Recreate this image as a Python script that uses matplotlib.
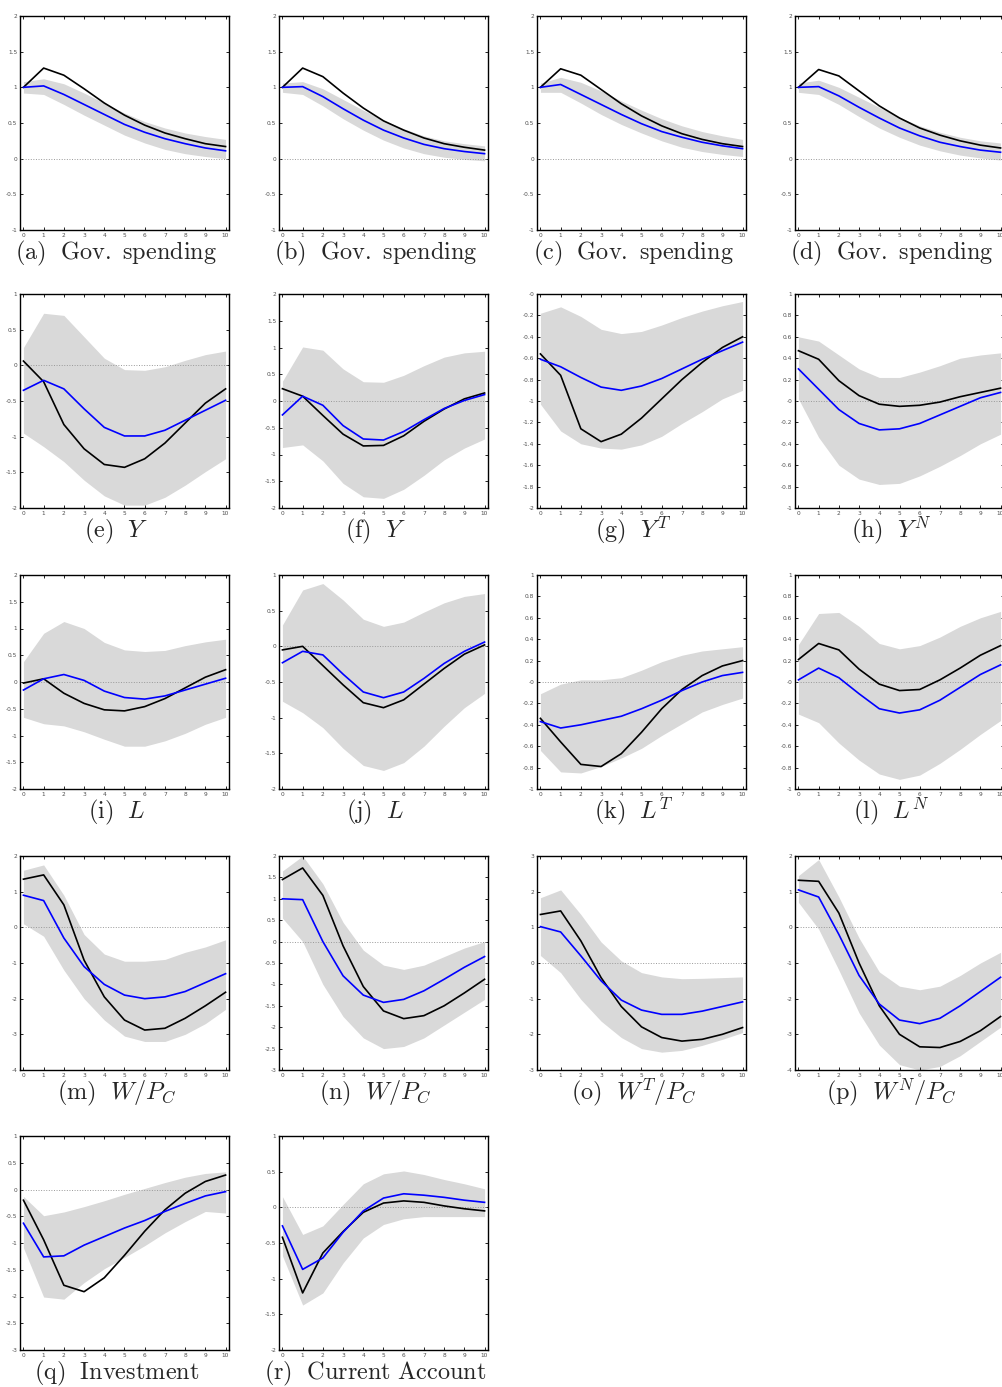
import numpy as np
import matplotlib
matplotlib.use("Agg")
import matplotlib.pyplot as plt
from matplotlib.ticker import FormatStrFormatter

plt.rcParams['mathtext.fontset'] = 'cm'
plt.rcParams['axes.unicode_minus'] = False

h = np.arange(11)

# black = point estimate, blue = model, lo/hi = grey band
a_blk = [1.0, 1.27, 1.17, 0.98, 0.78, 0.61, 0.47, 0.36, 0.28, 0.21, 0.17]
a_blu = [1.0, 1.02, 0.90, 0.76, 0.62, 0.48, 0.37, 0.28, 0.21, 0.15, 0.11]
a_hi = [1.08, 1.12, 1.05, 0.92, 0.78, 0.64, 0.52, 0.43, 0.36, 0.31, 0.27]
a_lo = [0.92, 0.90, 0.76, 0.61, 0.47, 0.33, 0.22, 0.13, 0.07, 0.03, 0.00]

b_blk = [1.0, 1.27, 1.15, 0.92, 0.71, 0.53, 0.40, 0.29, 0.21, 0.16, 0.12]
b_blu = [1.0, 1.01, 0.87, 0.70, 0.54, 0.40, 0.29, 0.20, 0.14, 0.10, 0.07]
b_hi = [1.06, 1.08, 0.98, 0.83, 0.68, 0.54, 0.42, 0.32, 0.25, 0.21, 0.18]
b_lo = [0.93, 0.90, 0.74, 0.56, 0.40, 0.26, 0.15, 0.07, 0.02, -0.01, -0.03]

c_blk = [1.0, 1.26, 1.17, 0.97, 0.77, 0.60, 0.46, 0.35, 0.27, 0.21, 0.17]
c_blu = [1.0, 1.04, 0.90, 0.76, 0.62, 0.49, 0.38, 0.30, 0.23, 0.18, 0.14]
c_hi = [1.06, 1.14, 1.07, 0.95, 0.81, 0.68, 0.56, 0.46, 0.38, 0.32, 0.27]
c_lo = [0.93, 0.93, 0.78, 0.62, 0.48, 0.36, 0.25, 0.16, 0.10, 0.06, 0.03]

d_blk = [1.0, 1.25, 1.16, 0.95, 0.74, 0.57, 0.43, 0.33, 0.25, 0.19, 0.15]
d_blu = [1.0, 1.01, 0.88, 0.72, 0.57, 0.43, 0.32, 0.23, 0.17, 0.12, 0.09]
d_hi = [1.06, 1.10, 1.00, 0.86, 0.72, 0.58, 0.46, 0.37, 0.30, 0.25, 0.22]
d_lo = [0.93, 0.90, 0.76, 0.59, 0.43, 0.30, 0.19, 0.11, 0.05, 0.01, -0.02]

e_blk = [0.06, -0.23, -0.83, -1.17, -1.39, -1.43, -1.31, -1.09, -0.81, -0.53, -0.33]
e_blu = [-0.35, -0.21, -0.33, -0.61, -0.87, -0.99, -0.99, -0.91, -0.77, -0.63, -0.49]
e_hi = [0.25, 0.73, 0.70, 0.40, 0.10, -0.06, -0.07, -0.02, 0.07, 0.15, 0.20]
e_lo = [-0.95, -1.14, -1.35, -1.61, -1.83, -1.96, -1.96, -1.85, -1.68, -1.49, -1.31]

f_blk = [0.23, 0.09, -0.27, -0.62, -0.84, -0.83, -0.65, -0.38, -0.15, 0.04, 0.15]
f_blu = [-0.26, 0.09, -0.08, -0.46, -0.71, -0.73, -0.57, -0.35, -0.14, 0.01, 0.12]
f_hi = [0.37, 1.01, 0.95, 0.60, 0.36, 0.35, 0.48, 0.66, 0.82, 0.90, 0.93]
f_lo = [-0.87, -0.82, -1.12, -1.54, -1.79, -1.82, -1.65, -1.39, -1.10, -0.88, -0.71]

g_blk = [-0.56, -0.76, -1.26, -1.38, -1.31, -1.16, -0.98, -0.80, -0.64, -0.50, -0.40]
g_blu = [-0.61, -0.68, -0.78, -0.87, -0.90, -0.86, -0.79, -0.70, -0.61, -0.53, -0.45]
g_hi = [-0.18, -0.12, -0.21, -0.33, -0.37, -0.35, -0.29, -0.22, -0.16, -0.11, -0.07]
g_lo = [-1.03, -1.28, -1.40, -1.44, -1.45, -1.41, -1.33, -1.21, -1.10, -0.98, -0.90]

hh_blk = [0.47, 0.39, 0.19, 0.05, -0.03, -0.05, -0.04, -0.01, 0.04, 0.08, 0.12]
hh_blu = [0.30, 0.11, -0.08, -0.21, -0.27, -0.26, -0.21, -0.13, -0.05, 0.03, 0.08]
hh_hi = [0.60, 0.56, 0.43, 0.30, 0.22, 0.22, 0.27, 0.33, 0.40, 0.43, 0.45]
hh_lo = [0.02, -0.34, -0.60, -0.73, -0.78, -0.77, -0.70, -0.61, -0.51, -0.40, -0.31]

i_blk = [-0.02, 0.06, -0.21, -0.40, -0.52, -0.54, -0.46, -0.31, -0.11, 0.09, 0.23]
i_blu = [-0.15, 0.06, 0.14, 0.03, -0.17, -0.29, -0.32, -0.26, -0.15, -0.04, 0.07]
i_hi = [0.38, 0.91, 1.13, 1.00, 0.74, 0.60, 0.57, 0.59, 0.68, 0.75, 0.80]
i_lo = [-0.66, -0.78, -0.82, -0.93, -1.07, -1.20, -1.20, -1.10, -0.96, -0.79, -0.66]

j_blk = [-0.05, 0.0, -0.27, -0.54, -0.79, -0.86, -0.75, -0.53, -0.31, -0.11, 0.02]
j_blu = [-0.23, -0.07, -0.12, -0.39, -0.64, -0.72, -0.64, -0.45, -0.24, -0.07, 0.06]
j_hi = [0.30, 0.79, 0.88, 0.65, 0.38, 0.28, 0.34, 0.48, 0.61, 0.70, 0.74]
j_lo = [-0.77, -0.93, -1.14, -1.43, -1.67, -1.74, -1.63, -1.40, -1.12, -0.86, -0.66]

k_blk = [-0.34, -0.56, -0.77, -0.79, -0.67, -0.47, -0.25, -0.07, 0.06, 0.15, 0.20]
k_blu = [-0.37, -0.43, -0.40, -0.36, -0.32, -0.25, -0.17, -0.08, 0.0, 0.06, 0.09]
k_hi = [-0.11, -0.02, 0.02, 0.02, 0.04, 0.11, 0.19, 0.25, 0.29, 0.31, 0.33]
k_lo = [-0.64, -0.84, -0.85, -0.79, -0.71, -0.62, -0.50, -0.39, -0.28, -0.21, -0.15]

l_blk = [0.21, 0.36, 0.30, 0.12, -0.02, -0.08, -0.07, 0.02, 0.13, 0.25, 0.34]
l_blu = [0.02, 0.13, 0.04, -0.11, -0.25, -0.29, -0.26, -0.17, -0.05, 0.07, 0.16]
l_hi = [0.35, 0.64, 0.65, 0.52, 0.36, 0.31, 0.34, 0.42, 0.52, 0.60, 0.66]
l_lo = [-0.30, -0.38, -0.57, -0.73, -0.86, -0.91, -0.87, -0.76, -0.63, -0.49, -0.36]

m_blk = [1.35, 1.47, 0.63, -0.92, -1.95, -2.6, -2.88, -2.83, -2.55, -2.2, -1.82]
m_blu = [0.90, 0.75, -0.30, -1.10, -1.60, -1.90, -2.00, -1.95, -1.80, -1.55, -1.30]
m_hi = [1.60, 1.75, 0.90, -0.20, -0.75, -0.95, -0.95, -0.90, -0.70, -0.55, -0.35]
m_lo = [0.10, -0.25, -1.20, -2.00, -2.60, -3.05, -3.20, -3.20, -3.00, -2.70, -2.30]

n_blk = [1.45, 1.72, 1.08, -0.10, -1.05, -1.62, -1.80, -1.73, -1.50, -1.20, -0.88]
n_blu = [1.00, 0.98, 0.00, -0.80, -1.25, -1.42, -1.35, -1.15, -0.88, -0.60, -0.35]
n_hi = [1.65, 2.00, 1.35, 0.45, -0.20, -0.55, -0.65, -0.55, -0.35, -0.15, 0.00]
n_lo = [0.55, 0.00, -1.00, -1.75, -2.25, -2.50, -2.45, -2.25, -1.95, -1.65, -1.35]

o_blk = [1.36, 1.46, 0.62, -0.41, -1.22, -1.79, -2.09, -2.19, -2.14, -2.00, -1.81]
o_blu = [1.02, 0.87, 0.20, -0.50, -1.04, -1.32, -1.44, -1.44, -1.35, -1.22, -1.09]
o_hi = [1.83, 2.05, 1.36, 0.59, 0.06, -0.27, -0.39, -0.44, -0.43, -0.41, -0.39]
o_lo = [0.21, -0.27, -1.02, -1.63, -2.09, -2.40, -2.50, -2.45, -2.31, -2.14, -1.95]

p_blk = [1.32, 1.29, 0.40, -1.00, -2.20, -3.00, -3.35, -3.37, -3.20, -2.90, -2.50]
p_blu = [1.05, 0.85, -0.20, -1.35, -2.15, -2.60, -2.70, -2.55, -2.20, -1.80, -1.40]
p_hi = [1.45, 1.90, 0.85, -0.30, -1.25, -1.65, -1.75, -1.65, -1.35, -1.00, -0.70]
p_lo = [0.70, -0.05, -1.20, -2.40, -3.30, -3.85, -4.00, -3.90, -3.60, -3.20, -2.80]

q_blk = [-0.20, -0.94, -1.79, -1.91, -1.65, -1.23, -0.78, -0.38, -0.07, 0.15, 0.27]
q_blu = [-0.63, -1.26, -1.24, -1.04, -0.88, -0.72, -0.58, -0.41, -0.26, -0.12, -0.04]
q_hi = [-0.13, -0.49, -0.42, -0.32, -0.21, -0.09, 0.02, 0.13, 0.23, 0.30, 0.33]
q_lo = [-1.09, -2.01, -2.05, -1.74, -1.48, -1.27, -1.05, -0.81, -0.60, -0.41, -0.44]

r_blk = [-0.42, -1.20, -0.64, -0.34, -0.07, 0.06, 0.09, 0.07, 0.02, -0.02, -0.05]
r_blu = [-0.26, -0.87, -0.71, -0.35, -0.05, 0.13, 0.19, 0.17, 0.14, 0.10, 0.07]
r_hi = [0.15, -0.38, -0.26, 0.04, 0.33, 0.47, 0.51, 0.46, 0.39, 0.33, 0.26]
r_lo = [-0.68, -1.37, -1.20, -0.78, -0.43, -0.24, -0.16, -0.13, -0.13, -0.13, -0.13]

labels = [r"$\mathrm{(a)\ \ Gov.\ spending}$", r"$\mathrm{(b)\ \ Gov.\ spending}$",
          r"$\mathrm{(c)\ \ Gov.\ spending}$", r"$\mathrm{(d)\ \ Gov.\ spending}$",
          r"$\mathrm{(e)}\ \ Y$", r"$\mathrm{(f)}\ \ Y$", r"$\mathrm{(g)}\ \ Y^T$", r"$\mathrm{(h)}\ \ Y^N$",
          r"$\mathrm{(i)}\ \ L$", r"$\mathrm{(j)}\ \ L$", r"$\mathrm{(k)}\ \ L^T$", r"$\mathrm{(l)}\ \ L^N$",
          r"$\mathrm{(m)}\ \ W/P_C$", r"$\mathrm{(n)}\ \ W/P_C$", r"$\mathrm{(o)}\ \ W^T/P_C$",
          r"$\mathrm{(p)}\ \ W^N/P_C$",
          r"$\mathrm{(q)\ \ Investment}$", r"$\mathrm{(r)\ \ Current\ Account}$"]

# (ymin, ymax, step) for each panel
ylims = [(-1, 2, 0.5)] * 4 + [(-2, 1, 0.5), (-2, 2, 0.5), (-2, 0, 0.2), (-1, 1, 0.2),
                              (-2, 2, 0.5), (-2, 1, 0.5), (-1, 1, 0.2), (-1, 1, 0.2),
                              (-4, 2, 1), (-3, 2, 0.5), (-3, 3, 1), (-4, 2, 1),
                              (-3, 1, 0.5), (-2, 1, 0.5)]

series = [(a_blk, a_blu, a_lo, a_hi), (b_blk, b_blu, b_lo, b_hi),
          (c_blk, c_blu, c_lo, c_hi), (d_blk, d_blu, d_lo, d_hi),
          (e_blk, e_blu, e_lo, e_hi), (f_blk, f_blu, f_lo, f_hi),
          (g_blk, g_blu, g_lo, g_hi), (hh_blk, hh_blu, hh_lo, hh_hi),
          (i_blk, i_blu, i_lo, i_hi), (j_blk, j_blu, j_lo, j_hi),
          (k_blk, k_blu, k_lo, k_hi), (l_blk, l_blu, l_lo, l_hi),
          (m_blk, m_blu, m_lo, m_hi), (n_blk, n_blu, n_lo, n_hi),
          (o_blk, o_blu, o_lo, o_hi), (p_blk, p_blu, p_lo, p_hi),
          (q_blk, q_blu, q_lo, q_hi), (r_blk, r_blu, r_lo, r_hi)]

W, H = 1003, 1387
fig = plt.figure(figsize=(W / 100, H / 100), dpi=100)

col_left = [20, 279, 537, 795]
row_top = [16, 294, 575, 856, 1136]
aw, ah = 209, 214

for n, (blk, blu, lo, hi) in enumerate(series):
    r, c = divmod(n, 4)
    x0, y0 = col_left[c], row_top[r]
    ax = fig.add_axes([x0 / W, 1 - (y0 + ah) / H, aw / W, ah / H])
    ymin, ymax, step = ylims[n]
    ax.fill_between(h, lo, hi, color=(0.85, 0.85, 0.85), lw=0, zorder=1)
    ax.axhline(0, color='0.6', ls=':', lw=0.7, zorder=2)
    ax.plot(h, blk, color='k', lw=1.2, zorder=3)
    ax.plot(h, blu, color='b', lw=1.2, zorder=4)
    ax.set_xlim(-0.17, 10.17)
    ax.set_ylim(ymin, ymax)
    ax.set_xticks(h)
    ax.set_yticks(np.round(np.arange(ymin, ymax + step / 2, step), 2))
    ax.yaxis.set_major_formatter(FormatStrFormatter('%g'))
    ax.tick_params(direction='in', length=2.5, width=0.6, labelsize=4.2,
                   labelcolor='0.3', pad=2, top=True, right=True)
    for s in ax.spines.values():
        s.set_linewidth(1.0)
    # caption under each panel, centred a little left of the axes box
    ax.text(0.5 - 8 / aw, -29 / ah, labels[n], transform=ax.transAxes, ha='center',
            va='baseline', fontsize=17.5, color='0.15')

fig.savefig("out.png", dpi=100)
